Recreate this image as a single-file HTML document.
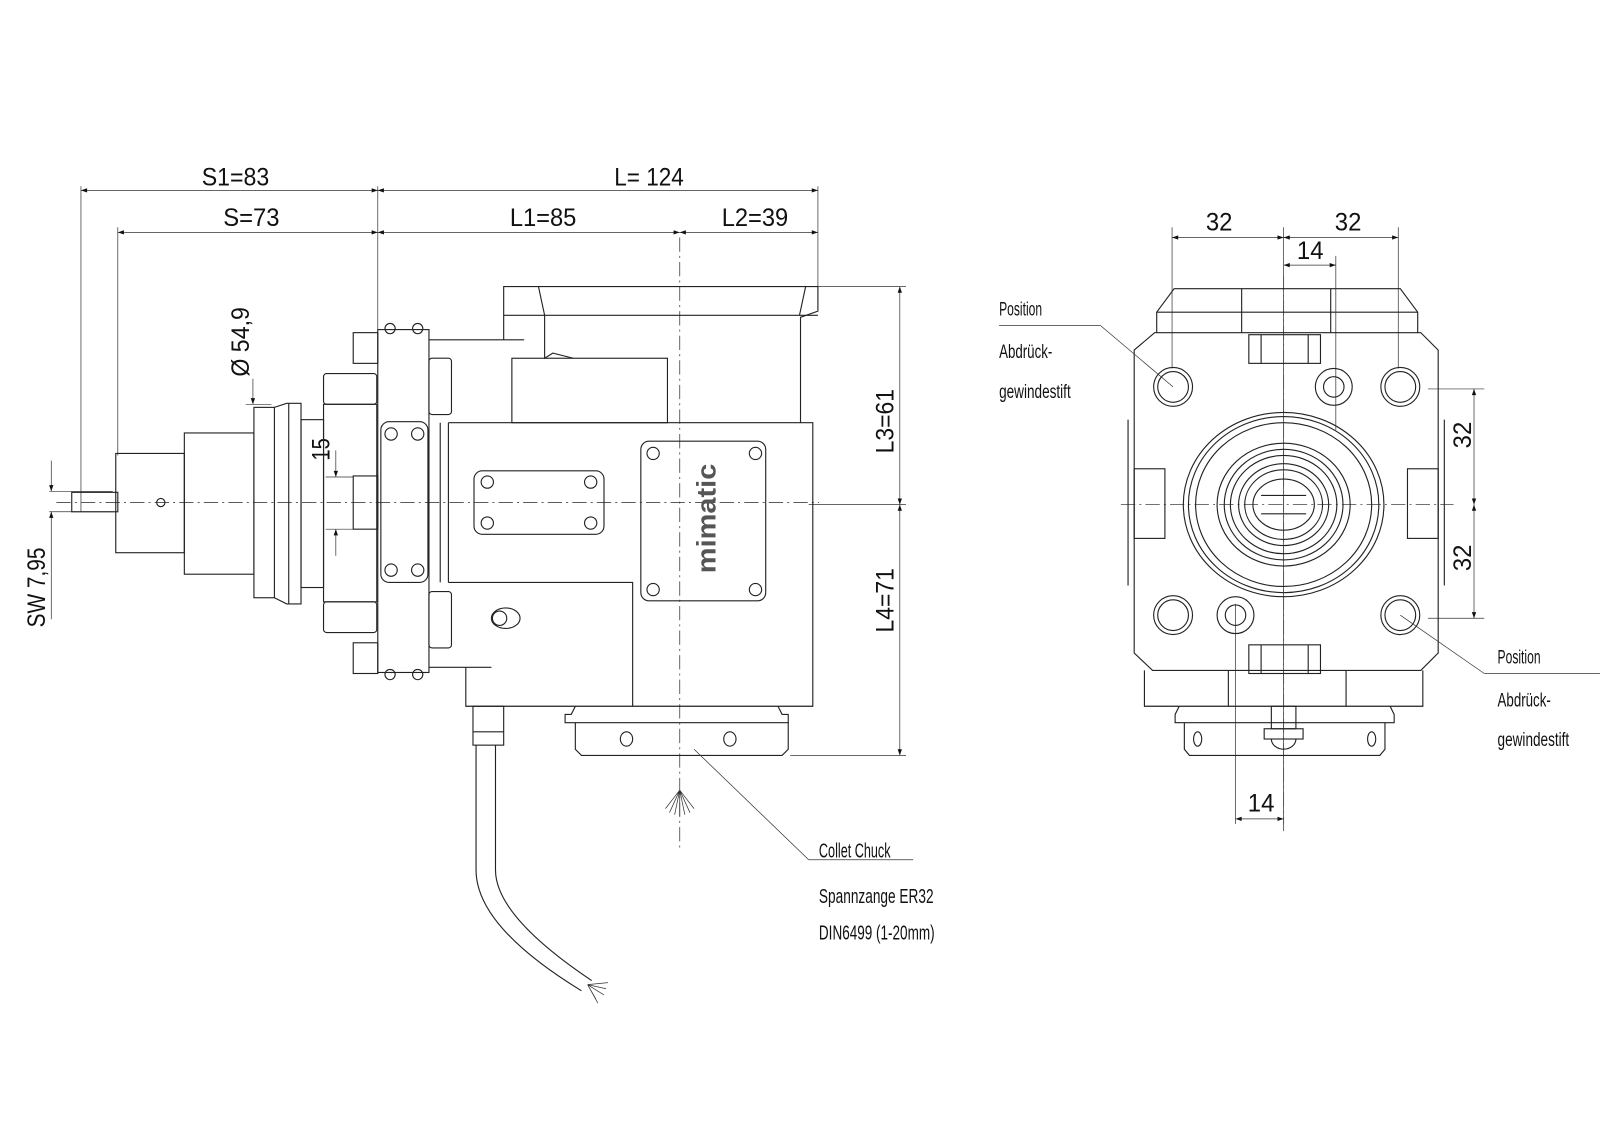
<!DOCTYPE html>
<html><head><meta charset="utf-8"><style>
html,body{margin:0;padding:0;background:#fff;}
svg{display:block}
text{font-family:"Liberation Sans",sans-serif;fill:#111}
.l{stroke:#222;stroke-width:1.1;fill:none}
.t{stroke:#333;stroke-width:0.7;fill:none}
.c{stroke:#444;stroke-width:0.8;fill:none;stroke-dasharray:14 4 2 4}
</style></head><body>
<svg width="1600" height="1130" viewBox="0 0 1563 1104" xmlns="http://www.w3.org/2000/svg">
<defs>
<marker id="a" viewBox="0 0 10 10" refX="10" refY="5" markerWidth="12" markerHeight="6" orient="auto-start-reverse" markerUnits="userSpaceOnUse"><path d="M0,1.5 L10,5 L0,8.5z" fill="#111"/></marker>
</defs>

<g class="t">
<line x1="79" y1="182" x2="79" y2="500"/>
<line x1="115" y1="222" x2="115" y2="445"/>
<line x1="369" y1="182" x2="369" y2="322"/>
<line x1="799" y1="182" x2="799" y2="280"/>
<line x1="799" y1="280" x2="885" y2="280"/>
<line x1="790" y1="493" x2="885" y2="493"/>
<line x1="772" y1="738" x2="885" y2="738"/>
<line x1="48" y1="480" x2="110" y2="480"/>
<line x1="48" y1="500" x2="110" y2="500"/>
<line x1="240" y1="395" x2="265" y2="395"/>
<line x1="318" y1="466" x2="345" y2="466"/>
<line x1="318" y1="517" x2="345" y2="517"/>
</g>
<g class="t" marker-start="url(#a)" marker-end="url(#a)">
<line x1="79" y1="186" x2="369" y2="186"/>
<line x1="369" y1="186" x2="799" y2="186"/>
<line x1="115" y1="227" x2="369" y2="227"/>
<line x1="369" y1="227" x2="664" y2="227"/>
<line x1="664" y1="227" x2="799" y2="227"/>
<line x1="879" y1="280" x2="879" y2="493"/>
<line x1="879" y1="493" x2="879" y2="738"/>
</g>
<g class="t">
<line x1="50" y1="450" x2="50" y2="480" marker-end="url(#a)"/>
<line x1="50" y1="530" x2="50" y2="500" marker-end="url(#a)"/>
<line x1="50" y1="530" x2="50" y2="605"/>
<line x1="247" y1="370" x2="247" y2="395" marker-end="url(#a)"/>
<line x1="328" y1="440" x2="328" y2="466" marker-end="url(#a)"/>
<line x1="328" y1="543" x2="328" y2="517" marker-end="url(#a)"/>
</g>
<g font-size="24" lengthAdjust="spacingAndGlyphs">
<text x="197" y="181" textLength="66" lengthAdjust="spacingAndGlyphs">S1=83</text>
<text x="600" y="181" textLength="68" lengthAdjust="spacingAndGlyphs">L= 124</text>
<text x="218" y="221" textLength="55" lengthAdjust="spacingAndGlyphs">S=73</text>
<text x="498" y="221" textLength="65" lengthAdjust="spacingAndGlyphs">L1=85</text>
<text x="705" y="221" textLength="65" lengthAdjust="spacingAndGlyphs">L2=39</text>
<text transform="translate(873,443) rotate(-90)" textLength="63" lengthAdjust="spacingAndGlyphs">L3=61</text>
<text transform="translate(873,618) rotate(-90)" textLength="63" lengthAdjust="spacingAndGlyphs">L4=71</text>
<text transform="translate(44,613) rotate(-90)" textLength="78" lengthAdjust="spacingAndGlyphs">SW 7,95</text>
<text transform="translate(243,368) rotate(-90)" textLength="68" lengthAdjust="spacingAndGlyphs">Ø 54,9</text>
<text transform="translate(322,450) rotate(-90)" textLength="22" lengthAdjust="spacingAndGlyphs">15</text>
</g>

<line class="c" x1="55" y1="491" x2="800" y2="491"/>
<line class="c" x1="664" y1="232" x2="664" y2="830"/>

<g class="l">
<rect x="70" y="481" width="45" height="19"/>
<rect x="113" y="443" width="67" height="97"/>
<circle cx="157" cy="491" r="4"/>
<rect x="180" y="423" width="68" height="138"/>
<rect x="248" y="398" width="20" height="186"/>
<path d="M268,398 l12,-4 h14 v196 h-14 l-12,-6"/>
<line x1="282" y1="394" x2="282" y2="590"/>
<rect x="294" y="410" width="22" height="164"/>
<rect x="316" y="365" width="52" height="30" rx="3"/>
<rect x="316" y="588" width="52" height="30" rx="3"/>
<rect x="345" y="325" width="24" height="30"/>
<rect x="345" y="628" width="24" height="30"/>
<rect x="316" y="395" width="52" height="193"/>
<rect x="345" y="465" width="24" height="52"/>
<rect x="369" y="322" width="50" height="335"/>
<circle cx="381" cy="321" r="5"/><circle cx="408" cy="321" r="5"/>
<circle cx="381" cy="659" r="5"/><circle cx="408" cy="659" r="5"/>
<rect x="372" y="412" width="46" height="157" rx="8"/>
<circle cx="382" cy="424" r="6"/><circle cx="408" cy="424" r="6"/>
<circle cx="382" cy="557" r="6"/><circle cx="408" cy="557" r="6"/>
<rect x="419" y="350" width="22" height="55" rx="3"/>
<rect x="419" y="578" width="22" height="55" rx="3"/>
<line x1="419" y1="332" x2="512" y2="332"/>
<line x1="419" y1="652" x2="480" y2="652"/>
<line x1="430" y1="413" x2="430" y2="569"/>
<path d="M492,332 V280 H799 V304 L782,310 V413"/>
<line x1="492" y1="308" x2="799" y2="308"/>
<path d="M526,280 L532,308 V350 L540,345 L560,350"/>
<path d="M787,280 L781,308"/>
<rect x="500" y="350" width="152" height="63"/>
<path d="M438,413 H794 V690 H455 V652"/>
<line x1="438" y1="413" x2="438" y2="569"/>
<path d="M438,569 H618 V690"/>
<rect x="463" y="460" width="127" height="62" rx="8"/>
<circle cx="476" cy="471" r="6"/><circle cx="577" cy="471" r="6"/>
<circle cx="476" cy="511" r="6"/><circle cx="577" cy="511" r="6"/>
<rect x="626" y="431" width="122" height="156" rx="8"/>
<circle cx="638" cy="443" r="6"/><circle cx="738" cy="443" r="6"/>
<circle cx="638" cy="576" r="6"/><circle cx="738" cy="576" r="6"/>
<ellipse cx="494" cy="604" rx="14" ry="10"/>
<circle cx="488" cy="604" r="7"/>
<path d="M562,690 l-4,8 h-6 v8 h218 v-8 h-6 l-4,-8"/>
<path d="M562,706 v26 l6,6 h196 l6,-6 v-26"/>
<ellipse cx="612" cy="722" rx="6" ry="7"/><ellipse cx="713" cy="722" rx="6" ry="7"/>
<rect x="462" y="690" width="30" height="38"/>
<line x1="462" y1="715" x2="492" y2="715"/>
<path d="M465,728 V850 Q465,905 568,968"/>
<path d="M484,728 V850 Q484,895 578,958"/>
</g>
<g class="t">
<path d="M574,962 l8,14 M574,962 l16,10 M574,962 l18,4 M574,962 l20,-2 M574,962 l10,18"/>
<path d="M664,772 l-10,22 M664,772 l-5,24 M664,772 v26 M664,772 l5,24 M664,772 l10,22 M664,772 l-14,18 M664,772 l14,18"/>
<line x1="678" y1="732" x2="790" y2="840"/>
<line x1="790" y1="840" x2="892" y2="840"/>
</g>
<text font-size="26" font-weight="bold" style="fill:#555" transform="translate(699,560) rotate(-90)" textLength="107" lengthAdjust="spacingAndGlyphs">mimatic</text>
<text x="800" y="838" font-size="20" textLength="70" lengthAdjust="spacingAndGlyphs">Collet Chuck</text>
<text x="800" y="882" font-size="20" textLength="112" lengthAdjust="spacingAndGlyphs">Spannzange ER32</text>
<text x="800" y="918" font-size="20" textLength="113" lengthAdjust="spacingAndGlyphs">DIN6499 (1-20mm)</text>

<g class="t">
<line x1="1145" y1="222" x2="1145" y2="360"/>
<line x1="1366" y1="222" x2="1366" y2="360"/>
<line x1="1305" y1="250" x2="1305" y2="420"/>
<line x1="1207" y1="590" x2="1207" y2="805"/>
<line x1="1395" y1="380" x2="1450" y2="380"/>
<line x1="1395" y1="604" x2="1450" y2="604"/>
<line x1="1254" y1="222" x2="1254" y2="805"/>
</g>
<g class="t" marker-start="url(#a)" marker-end="url(#a)">
<line x1="1145" y1="232" x2="1254" y2="232"/>
<line x1="1254" y1="232" x2="1366" y2="232"/>
<line x1="1254" y1="259" x2="1305" y2="259"/>
<line x1="1440" y1="380" x2="1440" y2="493"/>
<line x1="1440" y1="493" x2="1440" y2="604"/>
<line x1="1207" y1="800" x2="1254" y2="800"/>
</g>
<g font-size="24">
<text x="1178" y="225" textLength="26" lengthAdjust="spacingAndGlyphs">32</text>
<text x="1304" y="225" textLength="26" lengthAdjust="spacingAndGlyphs">32</text>
<text x="1267" y="253" textLength="26" lengthAdjust="spacingAndGlyphs">14</text>
<text x="1219" y="793" textLength="26" lengthAdjust="spacingAndGlyphs">14</text>
<text transform="translate(1437,438) rotate(-90)" textLength="26" lengthAdjust="spacingAndGlyphs">32</text>
<text transform="translate(1437,558) rotate(-90)" textLength="26" lengthAdjust="spacingAndGlyphs">32</text>
</g>

<line class="c" x1="1095" y1="493" x2="1420" y2="493"/>
<line class="c" x1="1254" y1="270" x2="1254" y2="815"/>

<g class="l">
<path d="M1130,325 V305 L1147,282 H1368 L1385,305 V325"/>
<line x1="1130" y1="305" x2="1385" y2="305"/>
<line x1="1213" y1="282" x2="1213" y2="325"/><line x1="1300" y1="282" x2="1300" y2="325"/>
<path d="M1128,325 H1388 L1405,342 V638 L1388,655 H1126 L1108,638 V342 Z"/>
<rect x="1220" y="327" width="70" height="28"/>
<line x1="1232" y1="327" x2="1232" y2="355"/><line x1="1278" y1="327" x2="1278" y2="355"/>
<rect x="1220" y="630" width="70" height="28"/>
<line x1="1232" y1="630" x2="1232" y2="658"/><line x1="1278" y1="630" x2="1278" y2="658"/>
<rect x="1108" y="458" width="30" height="68"/>
<rect x="1375" y="458" width="30" height="68"/>
<line x1="1102" y1="410" x2="1102" y2="572"/><line x1="1411" y1="410" x2="1411" y2="572"/>
<circle cx="1146" cy="378" r="19"/><circle cx="1146" cy="378" r="15"/>
<circle cx="1368" cy="378" r="19"/><circle cx="1368" cy="378" r="15"/>
<circle cx="1146" cy="601" r="19"/><circle cx="1146" cy="601" r="15"/>
<circle cx="1368" cy="601" r="19"/><circle cx="1368" cy="601" r="15"/>
<circle cx="1303" cy="378" r="18"/><circle cx="1303" cy="378" r="10"/>
<circle cx="1207" cy="601" r="18"/><circle cx="1207" cy="601" r="10"/>
<ellipse cx="1254" cy="493" rx="98" ry="90"/>
<ellipse cx="1254" cy="493" rx="93" ry="86"/>
<ellipse cx="1254" cy="493" rx="86" ry="80"/>
<ellipse cx="1254" cy="493" rx="65" ry="60"/>
<ellipse cx="1254" cy="493" rx="58" ry="54"/>
<ellipse cx="1254" cy="493" rx="52" ry="48"/>
<ellipse cx="1254" cy="493" rx="44" ry="40"/>
<ellipse cx="1254" cy="493" rx="38" ry="34"/>
<ellipse cx="1254" cy="493" rx="30" ry="25"/>
<line x1="1232" y1="484" x2="1276" y2="484"/><line x1="1232" y1="502" x2="1276" y2="502"/>
<path d="M1118,655 V690 H1390 V655"/>
<line x1="1200" y1="655" x2="1200" y2="690"/><line x1="1315" y1="655" x2="1315" y2="690"/>
<path d="M1152,690 l-4,8 v8 h214 v-8 l-4,-8"/>
<path d="M1157,706 v26 l5,6 h186 l5,-6 v-26"/>
<ellipse cx="1170" cy="722" rx="4" ry="7"/><ellipse cx="1340" cy="722" rx="4" ry="7"/>
<rect x="1242" y="690" width="24" height="22"/>
<rect x="1235" y="712" width="38" height="10"/>
<path d="M1242,722 a12,10 0 0 0 24,0"/>
</g>
<g class="t">
<line x1="976" y1="318" x2="1075" y2="318"/>
<line x1="1075" y1="318" x2="1146" y2="378"/>
<line x1="1368" y1="601" x2="1450" y2="658"/>
<line x1="1450" y1="658" x2="1563" y2="658"/>
</g>
<g font-size="19">
<text x="976" y="308" textLength="42" lengthAdjust="spacingAndGlyphs">Position</text>
<text x="976" y="350" textLength="52" lengthAdjust="spacingAndGlyphs">Abdrück-</text>
<text x="976" y="389" textLength="70" lengthAdjust="spacingAndGlyphs">gewindestift</text>
<text x="1463" y="648" textLength="42" lengthAdjust="spacingAndGlyphs">Position</text>
<text x="1463" y="690" textLength="52" lengthAdjust="spacingAndGlyphs">Abdrück-</text>
<text x="1463" y="729" textLength="70" lengthAdjust="spacingAndGlyphs">gewindestift</text>
</g>
</svg>
</body></html>
